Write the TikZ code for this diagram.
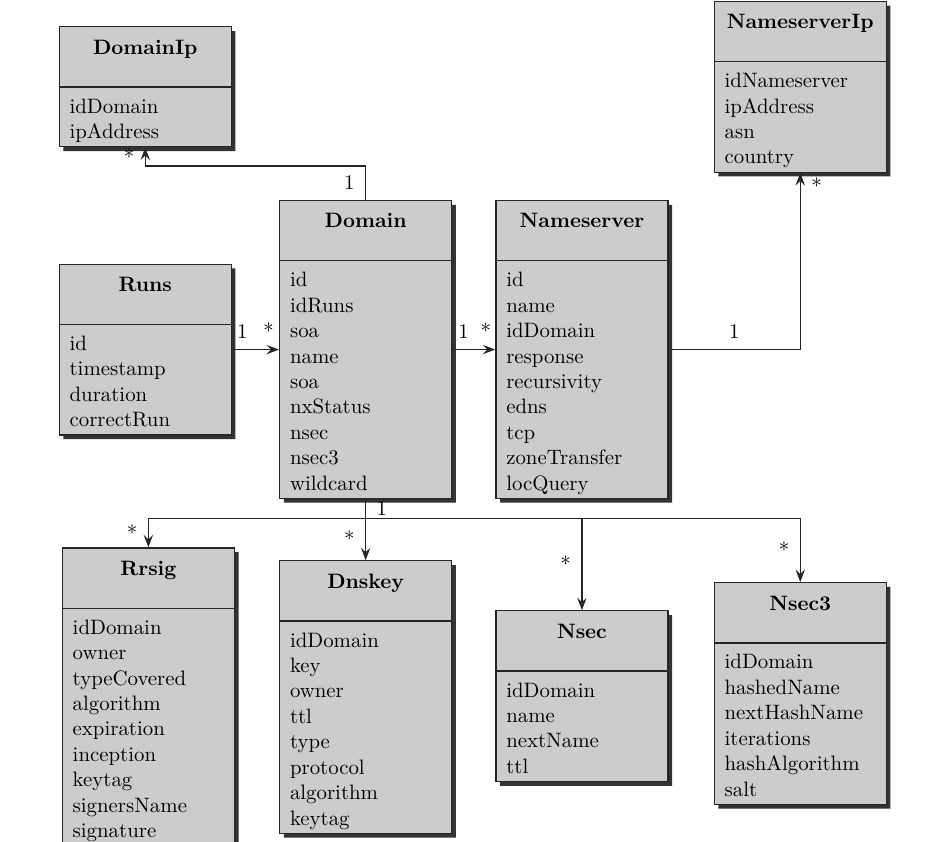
\documentclass[tikz,border=0pt]{standalone}
\usetikzlibrary{arrows.meta,positioning,shapes.multipart,shadows}
\newcommand{\entitle}[1]{\hbox to\hsize{\rule[-15.5pt]{0pt}{28.3pt}\hss\textbf{#1}\hss}}
\newcommand{\firstrow}{\rule{0pt}{12.2pt}}
\newcommand{\lastrow}{\rule[-3.7pt]{0pt}{3.7pt}}
\tikzset{entity/.style={rectangle split,rectangle split parts=2,draw=black!85,
  fill=black!20,line width=0.6pt,text width=72.6pt,inner xsep=5pt,inner ysep=0pt,
  font=\fontsize{10}{12.2}\selectfont,
  drop shadow={shadow xshift=2pt,shadow yshift=-2pt,fill=black!80,opacity=1}},
  assoc/.style={-{Stealth[length=6pt,width=4.5pt,inset=2.2pt]},line width=0.6pt,draw=black!85},
  mult/.style={inner sep=5pt,font=\fontsize{10}{12}\selectfont}}

\begin{document}
\begin{tikzpicture}
\useasboundingbox (-133.92pt,96pt) rectangle (315.84pt,-308.16pt);
\node[entity,anchor=north west] (domain) at (0,0)
  {\entitle{Domain}\nodepart{two}\firstrow id\\ idRuns\\ soa\\ name\\ soa\\ nxStatus\\ nsec\\ nsec3\\ wildcard\lastrow};
\node[entity,right=20.6pt of domain] (nameserver)
  {\entitle{Nameserver}\nodepart{two}\firstrow id\\ name\\ idDomain\\ response\\ recursivity\\ edns\\ tcp\\ zoneTransfer\\ locQuery\lastrow};
\node[entity,left=22.6pt of domain] (runs)
  {\entitle{Runs}\nodepart{two}\firstrow id\\ timestamp\\ duration\\ correctRun\lastrow};
\node[entity,above=55.7pt of runs] (domainip)
  {\entitle{DomainIp}\nodepart{two}\firstrow idDomain\\ ipAddress\lastrow};
\node[entity,above right=13pt and 21.6pt of nameserver] (nameserverip)
  {\entitle{NameserverIp}\nodepart{two}\firstrow idNameserver\\ ipAddress\\ asn\\ country\lastrow};
\node[entity,below=29.3pt of domain] (dnskey)
  {\entitle{Dnskey}\nodepart{two}\firstrow idDomain\\ key\\ owner\\ ttl\\ type\\ protocol\\ algorithm\\ keytag\lastrow};
\node[entity,left=21.1pt of dnskey.north west,anchor=north east,yshift=6.2pt] (rrsig)
  {\entitle{Rrsig}\nodepart{two}\firstrow idDomain\\ owner\\ typeCovered\\ algorithm\\ expiration\\ inception\\ keytag\\ signersName\\ signature\lastrow};
\node[entity,below=53.3pt of nameserver] (nsec)
  {\entitle{Nsec}\nodepart{two}\firstrow idDomain\\ name\\ nextName\\ ttl\lastrow};
\node[entity,right=21.6pt of nsec.north east,anchor=north west,yshift=13.5pt] (nsec3)
  {\entitle{Nsec3}\nodepart{two}\firstrow idDomain\\ hashedName\\ nextHashName\\ iterations\\ hashAlgorithm\\ salt\lastrow};

\draw[assoc] (domain.north) -- node[mult,left]{1} ++(0,16.3pt) -| node[mult,near end,left]{*} (domainip.south);
\draw[assoc] (runs) -- node[mult,pos=0.22,above]{1} node[mult,pos=0.78,above]{*} (domain);
\draw[assoc] (domain) -- node[mult,pos=0.26,above]{1} node[mult,pos=0.78,above]{*} (nameserver);
\draw[assoc] (nameserver.east) -| node[mult,pos=0.25,above]{1} node[mult,pos=0.965,right]{*} (nameserverip.south);
\path (domain.south) ++(0,-9.1pt) coordinate (fan);
\draw[assoc,-] (domain.south) -- node[mult,right]{1} (fan);
\foreach \e in {rrsig,dnskey,nsec,nsec3}
\draw[assoc] (fan) -| node[mult,near end,left]{*} (\e.north);
\end{tikzpicture}
\end{document}
